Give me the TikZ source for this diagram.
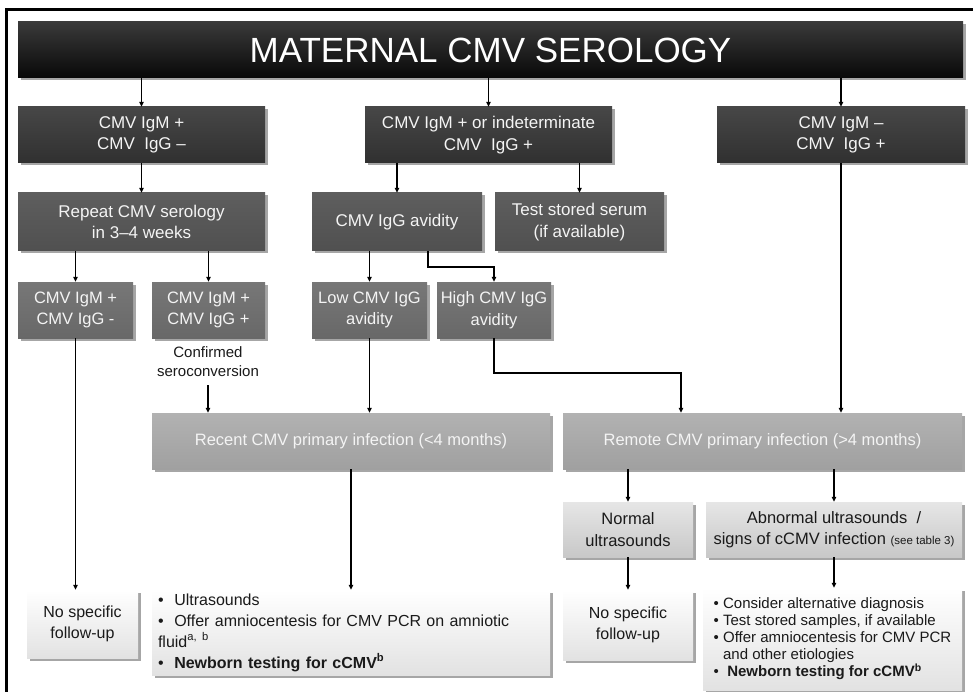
\documentclass[tikz,border=0pt]{standalone}
\usepackage{fontspec}
\setmainfont{Liberation Sans}
\usetikzlibrary{arrows.meta,shadows,calc}
\definecolor{tA}{HTML}{3A3A3A}
\definecolor{tB}{HTML}{080808}
\definecolor{aT}{HTML}{474747}
\definecolor{aB}{HTML}{303030}
\definecolor{bT}{HTML}{5E5E5E}
\definecolor{bB}{HTML}{505050}
\definecolor{cT}{HTML}{777777}
\definecolor{cB}{HTML}{686868}
\definecolor{dT}{HTML}{B2B2B2}
\definecolor{dB}{HTML}{A0A0A0}
\definecolor{eT}{HTML}{E6E6E6}
\definecolor{eB}{HTML}{C8C8C8}
\definecolor{fT}{HTML}{FFFFFF}
\definecolor{fB}{HTML}{E2E2E2}
\definecolor{txtlight}{HTML}{F4F4F4}
\definecolor{txtdark}{HTML}{1A1A1A}
\begin{document}
\begin{tikzpicture}[x=1pt,y=-1pt,
  base/.style={draw=none, inner sep=1pt, align=center,
    drop shadow={shadow xshift=2.5pt, shadow yshift=-2.5pt, opacity=.35, fill=black}},
  titlebox/.style={base, top color=tA, bottom color=tB, text=white,
    font=\fontsize{35}{38}\selectfont},
  lvlone/.style={base, top color=aT, bottom color=aB, text=txtlight,
    font=\fontsize{17}{21.5}\selectfont},
  lvltwo/.style={base, top color=bT, bottom color=bB, text=txtlight,
    font=\fontsize{17}{21.5}\selectfont},
  lvlthree/.style={base, top color=cT, bottom color=cB, text=txtlight,
    font=\fontsize{16.5}{21.5}\selectfont},
  infect/.style={base, top color=dT, bottom color=dB, text=txtlight,
    font=\fontsize{16.5}{21}\selectfont},
  usbox/.style={base, top color=eT, bottom color=eB, text=txtdark,
    font=\fontsize{16.5}{21.5}\selectfont},
  endbox/.style={base, top color=fT, bottom color=fB, text=txtdark,
    font=\fontsize{16}{21}\selectfont},
  plaintext/.style={align=center, inner sep=0pt, text=txtdark,
    font=\fontsize{15}{19}\selectfont},
  arr/.style={line width=1.5pt, -{Triangle[length=5pt,width=4.5pt]}}
]
\useasboundingbox (0,0) rectangle (973,692);
\fill[white] (0,0) rectangle (973,692);
\draw[line width=3pt] (6.5,700) -- (6.5,9.5) -- (980,9.5);

% title
\node[titlebox, minimum width=945pt, minimum height=56pt] (title) at (490.5,50) {MATERNAL CMV SEROLOGY};

% level one
\node[lvlone, minimum width=247pt, minimum height=56pt] (A) at (141.5,135) {CMV IgM +\\CMV\ \ IgG –};
\node[lvlone, minimum width=247pt, minimum height=56pt] (B) at (488.5,135) {CMV IgM + or indeterminate\\CMV\ \ IgG +};
\node[lvlone, minimum width=248pt, minimum height=56pt] (C) at (841,135) {CMV IgM –\\CMV\ \ IgG +};

% level two
\node[lvltwo, minimum width=247pt, minimum height=58pt] (rep) at (141.5,222) {Repeat CMV serology\\in 3–4 weeks};
\node[lvltwo, minimum width=170pt, minimum height=58pt] (avid) at (397,222) {CMV IgG avidity};
\node[lvltwo, minimum width=169pt, minimum height=58pt] (serum) at (579.5,222) {Test stored serum\\(if available)};

% level three
\node[lvlthree, minimum width=115pt, minimum height=56pt] (mneg) at (75.5,310) {CMV IgM +\\CMV IgG -};
\node[lvlthree, minimum width=113pt, minimum height=56pt] (mpos) at (208.5,310) {CMV IgM +\\CMV IgG +};
\node[lvlthree, minimum width=115pt, minimum height=56pt] (low) at (369.5,310) {Low CMV IgG\\avidity};
\node[lvlthree, minimum width=114pt, minimum height=56pt] (high) at (494,310) {High CMV IgG\\avidity};

\node[plaintext] (conf) at (208,362) {Confirmed\\seroconversion};

% infection
\node[infect, minimum width=398pt, minimum height=56pt] (recent) at (351,441) {Recent CMV primary infection (<4 months)};
\node[infect, minimum width=399pt, minimum height=56pt] (remote) at (762.5,441) {Remote CMV primary infection (>4 months)};

% ultrasounds
\node[usbox, minimum width=130pt, minimum height=55pt] (normal) at (628,529.5) {Normal\\ultrasounds};
\node[usbox, inner xsep=0pt, minimum width=256pt, minimum height=55pt] (abn) at (834,529.5) {Abnormal ultrasounds \ /\\signs of cCMV infection {\fontsize{11.5}{13}\selectfont(see table 3)}};

% end boxes
\node[endbox, minimum width=111pt, minimum height=68pt] (nofa) at (82.5,624) {No specific\\follow-up};
\node[endbox, minimum width=398pt, minimum height=85pt, text width=386pt, inner xsep=6pt, align=left] (bula) at (351,632.5)
  {\textbullet\ \ Ultrasounds\\
   \textbullet\ \ Offer amniocentesis for CMV PCR on amniotic\\
   fluid\textsuperscript{a, b}\\
   \textbullet\ \ \textbf{Newborn testing for cCMV\textsuperscript{b}}};
\node[endbox, minimum width=130pt, minimum height=70pt] (nofb) at (628,625) {No specific\\follow-up};
\node[endbox, minimum width=259pt, minimum height=102pt, align=left,
  font=\fontsize{15}{17}\selectfont] (bulb) at (832.5,639)
  {\textbullet\ Consider alternative diagnosis\\
   \textbullet\ Test stored samples, if available\\
   \textbullet\ Offer amniocentesis for CMV PCR\\
   \phantom{\textbullet\ }and other etiologies\\
   \textbullet\ \ \textbf{Newborn testing for cCMV\textsuperscript{b}}};

% connectors
\draw[arr] (title.south -| A.north) -- (A.north);
\draw[arr] (title.south -| B.north) -- (B.north);
\draw[arr] (title.south -| C.north) -- (C.north);
\draw[arr] (A.south) -- (rep.north);
\draw[arr] (rep.south -| mneg.north) -- (mneg.north);
\draw[arr] (rep.south -| mpos.north) -- (mpos.north);
\draw[arr] (B.south -| avid.north) -- (avid.north);
\draw[arr] (B.south -| serum.north) -- (serum.north);
\draw[arr] (avid.south -| low.north) -- (low.north);
\draw[arr] ([xshift=31pt]avid.south) -- ++(0,16) -| (high.north);
\draw[arr] (conf.south) ++(0,8) -- (conf.south |- recent.north);
\draw[arr] (low.south) -- (low.south |- recent.north);
\draw[arr] (high.south) -- ++(0,35) -| ([xshift=-81.5pt]remote.north);
\draw[arr] (C.south) -- (C.south |- remote.north);
\draw[arr] (mneg.south) -- (mneg.south |- nofa.north);
\draw[arr] (recent.south) -- (bula.north);
\draw[arr] (remote.south -| normal.north) -- (normal.north);
\draw[arr] (remote.south -| abn.north) -- (abn.north);
\draw[arr] (normal.south) -- (nofb.north);
\draw[arr] (abn.south) -- (abn.south |- bulb.north);
\end{tikzpicture}
\end{document}
